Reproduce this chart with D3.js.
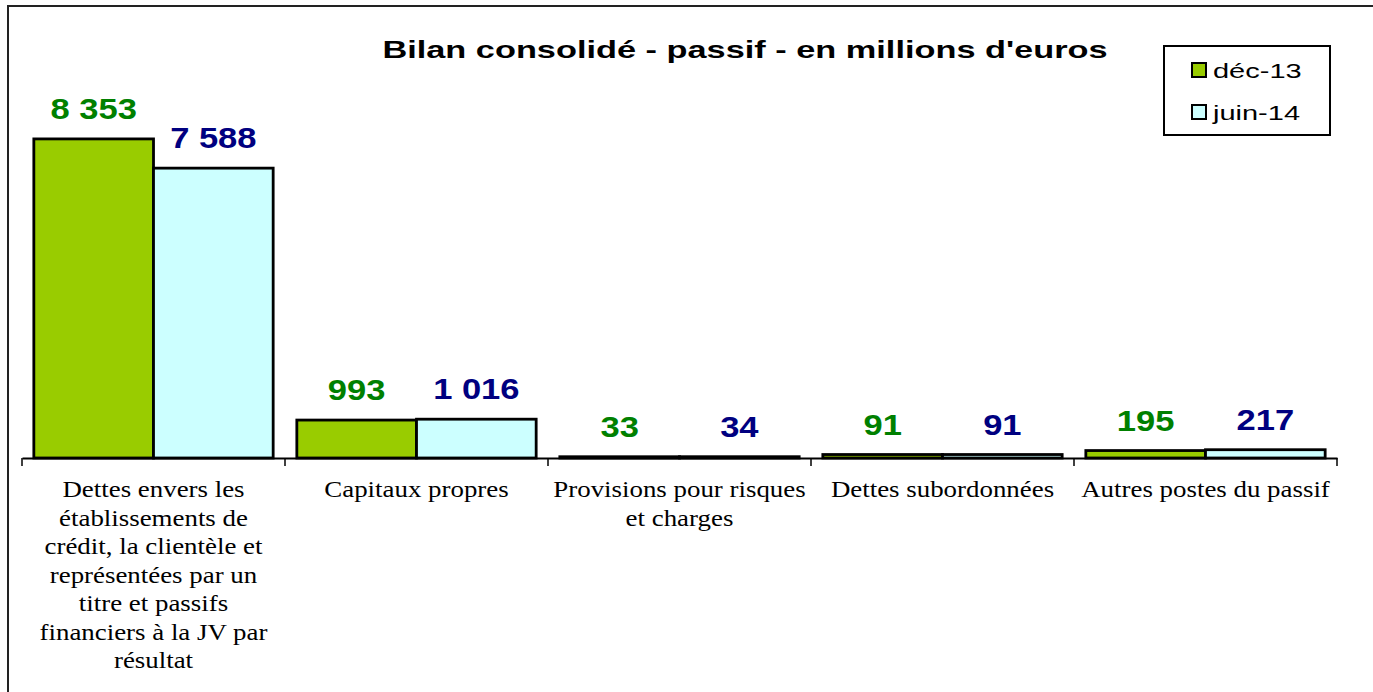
<!DOCTYPE html>
<html>
<head>
<meta charset="utf-8">
<script src="https://cdn.jsdelivr.net/npm/d3@7"></script>
<style>
  body { margin: 0; background: #fff; }
  svg { display: block; }
</style>
</head>
<body>
<div id="chart"></div>
<script>
// data
var categories = [
    "Dettes envers les établissements de crédit, la clientèle et représentées par un titre et passifs financiers à la JV par résultat",
    "Capitaux propres",
    "Provisions pour risques et charges",
    "Dettes subordonnées",
    "Autres postes du passif"
];
var categoryLines = [
    ["Dettes envers les", "établissements de", "crédit, la clientèle et", "représentées par un", "titre et passifs", "financiers à la JV par", "résultat"],
    ["Capitaux propres"],
    ["Provisions pour risques", "et charges"],
    ["Dettes subordonnées"],
    ["Autres postes du passif"]
];
var seriesNames = ["déc-13", "juin-14"];
var dec13 = [8353, 993, 33, 91, 195];
var juin14 = [7588, 1016, 34, 91, 217];
var valueLabels = {
    "déc-13": ["8 353", "993", "33", "91", "195"],
    "juin-14": ["7 588", "1 016", "34", "91", "217"]
};
var fills = ["#99cc00", "#ccffff"];
var labelColors = ["#008000", "#000080"];

var svgWidth = 1373;
var svgHeight = 692;

var margin = { top: 76, left: 22, right: 36, bottom: 234 };
var chartWidth = svgWidth - margin.left - margin.right;
var chartHeight = svgHeight - margin.top - margin.bottom;

// the original text is rendered wider than the browser fonts: stretch it
function stretch(sel, factor) {
    sel.each(function() {
        var len = this.getComputedTextLength();
        d3.select(this).attr("textLength", len * factor)
                       .attr("lengthAdjust", "spacingAndGlyphs");
    });
}

var svg = d3.select("#chart").append("svg")
            .attr("width", svgWidth)
            .attr("height", svgHeight);

// outer frame (runs off the right / bottom of the picture)
svg.append("rect")
   .attr("x", 8).attr("y", 6)
   .attr("width", 1400).attr("height", 720)
   .attr("fill", "none")
   .attr("stroke", "#222")
   .attr("stroke-width", 2);

var chartGroup = svg.append("g")
                    .attr("transform", `translate(${margin.left}, ${margin.top})`);

var table = categories.map((c, i) => ({ cat: c, i: i, values: [dec13[i], juin14[i]] }));

var xScale = d3.scaleBand()
               .domain(categories)
               .range([0, chartWidth])
               .paddingInner(0.09)
               .paddingOuter(0.045);

var xInner = d3.scaleBand()
               .domain(seriesNames)
               .range([0, xScale.bandwidth()]);

var yScale = d3.scaleLinear()
               .domain([0, 10000])
               .range([chartHeight, 0]);

// bars
var groups = chartGroup.selectAll("g.cat").data(table).enter().append("g")
                       .attr("class", "cat")
                       .attr("transform", d => `translate(${xScale(d.cat)}, 0)`);

groups.selectAll("rect").data(d => d.values.map((v, k) => ({ v: v, k: k, i: d.i })))
      .enter().append("rect")
      .attr("x", d => xInner(seriesNames[d.k]))
      .attr("y", d => yScale(d.v))
      .attr("width", xInner.bandwidth())
      .attr("height", d => chartHeight - yScale(d.v))
      .attr("fill", d => fills[d.k])
      .attr("stroke", "#000")
      .attr("stroke-width", 2.8);

var vals = groups.selectAll("text.val").data(d => d.values.map((v, k) => ({ v: v, k: k, i: d.i })))
      .enter().append("text")
      .attr("class", "val")
      .attr("x", d => xInner(seriesNames[d.k]) + xInner.bandwidth() / 2)
      .attr("y", d => yScale(d.v) - 20)
      .attr("text-anchor", "middle")
      .attr("font-family", "Arial, 'Liberation Sans', sans-serif")
      .attr("font-weight", "bold")
      .attr("font-size", "29px")
      .attr("fill", d => labelColors[d.k])
      .text(d => valueLabels[seriesNames[d.k]][d.i]);
stretch(vals, 1.19);

// x axis: line with ticks between categories
var bottomAxis = d3.axisBottom(xScale).tickSize(0).tickFormat("");
chartGroup.append("g")
          .attr("transform", `translate(0, ${chartHeight})`)
          .call(bottomAxis)
          .call(g => g.select(".domain").attr("stroke", "#000").attr("stroke-width", 2));

var edges = d3.range(categories.length + 1).map(k => k * chartWidth / categories.length);
chartGroup.selectAll("line.tick-edge").data(edges).enter().append("line")
          .attr("class", "tick-edge")
          .attr("x1", d => d).attr("x2", d => d)
          .attr("y1", chartHeight).attr("y2", chartHeight + 8)
          .attr("stroke", "#000")
          .attr("stroke-width", 1.5);

// category labels
var catText = chartGroup.selectAll("text.cat-label").data(table).enter().append("text")
                        .attr("class", "cat-label")
                        .attr("text-anchor", "middle")
                        .attr("font-family", "'Times New Roman', 'Liberation Serif', serif")
                        .attr("font-size", "24px")
                        .attr("fill", "#000");
var lines = catText.selectAll("tspan").data(d => categoryLines[d.i].map(l => ({ l: l, i: d.i })))
       .enter().append("tspan")
       .attr("x", d => xScale(categories[d.i]) + xScale.bandwidth() / 2)
       .attr("y", (d, j) => chartHeight + 39 + j * 28.5)
       .text(d => d.l);
stretch(lines, 1.12);

// title
var title = svg.append("text")
   .attr("x", 745)
   .attr("y", 58)
   .attr("text-anchor", "middle")
   .attr("font-family", "Arial, 'Liberation Sans', sans-serif")
   .attr("font-weight", "bold")
   .attr("font-size", "24px")
   .attr("fill", "#000")
   .text("Bilan consolidé - passif - en millions d'euros");
stretch(title, 1.43);

// legend
var legend = svg.append("g").attr("transform", "translate(1164, 46)");
legend.append("rect")
      .attr("width", 166).attr("height", 89)
      .attr("fill", "#fff")
      .attr("stroke", "#000")
      .attr("stroke-width", 2);
var items = legend.selectAll("g.item").data(seriesNames).enter().append("g")
                  .attr("class", "item")
                  .attr("transform", (d, k) => `translate(28, ${17 + k * 42})`);
items.append("rect")
     .attr("width", 14).attr("height", 14)
     .attr("fill", (d, k) => fills[k])
     .attr("stroke", "#000")
     .attr("stroke-width", 2);
var legText = items.append("text")
     .attr("x", 21).attr("y", 15)
     .attr("font-family", "Arial, 'Liberation Sans', sans-serif")
     .attr("font-size", "21px")
     .attr("fill", "#000")
     .text(d => d);
stretch(legText, 1.38);
</script>
</body>
</html>
